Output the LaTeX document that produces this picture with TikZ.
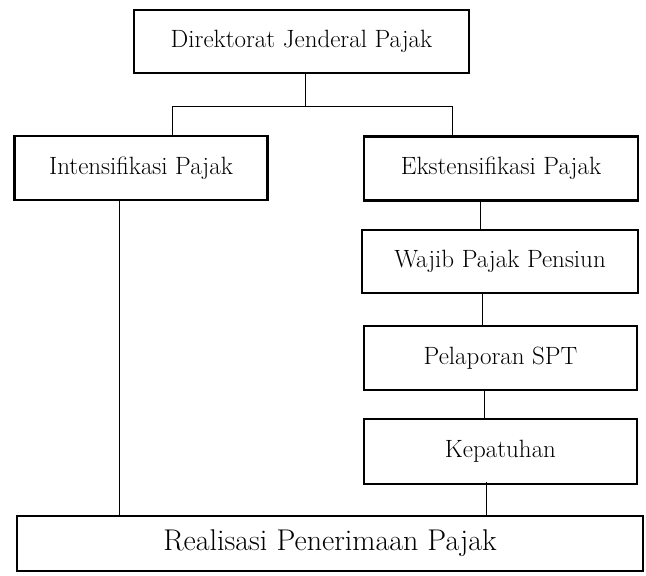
\documentclass[tikz,border=0pt]{standalone}
\begin{document}
\begin{tikzpicture}[x=1pt,y=-1pt,
  box/.style={draw, line width=2.8pt, inner sep=0pt, font=\fontsize{25}{30}\selectfont},
  conn/.style={line width=1pt}]
\useasboundingbox (0,0) rectangle (646,576);
\node[box, minimum width=335, minimum height=63] (djp) at (301.5,41.5) {Direktorat Jenderal Pajak};
\node[box, minimum width=253, minimum height=64] (int) at (141,168) {Intensifikasi Pajak};
\node[box, minimum width=274, minimum height=64] (eks) at (501,168.5) {Ekstensifikasi Pajak};
\node[box, minimum width=276, minimum height=63] (wp) at (500,261.5) {Wajib Pajak Pensiun};
\node[box, minimum width=273, minimum height=64] (spt) at (500.5,358) {Pelaporan SPT};
\node[box, minimum width=273, minimum height=65] (kep) at (500.5,451.5) {Kepatuhan};
\node[box, minimum width=626, minimum height=55, font=\fontsize{30}{36}\selectfont] (real) at (330,543.5) {Realisasi Penerimaan Pajak};
\coordinate (j) at (305,106);
\coordinate (jl) at (172,106);
\coordinate (jr) at (452,106);
\draw[conn] (djp.south -| j) -- (j);
\draw[conn] (jl) -- (jr);
\draw[conn] (jl) -- (jl |- int.north);
\draw[conn] (jr) -- (jr |- eks.north);
\draw[conn] (eks.south -| 480,0) -- (wp.north -| 480,0);
\draw[conn] (wp.south -| 482,0) -- (spt.north -| 482,0);
\draw[conn] (spt.south -| 484,0) -- (kep.north -| 484,0);
\coordinate (kb) at (486,482);
\draw[conn] (kb) -- (kb |- real.north);
\draw[conn] (int.south -| 119,0) -- (real.north -| 119,0);
\end{tikzpicture}
\end{document}
